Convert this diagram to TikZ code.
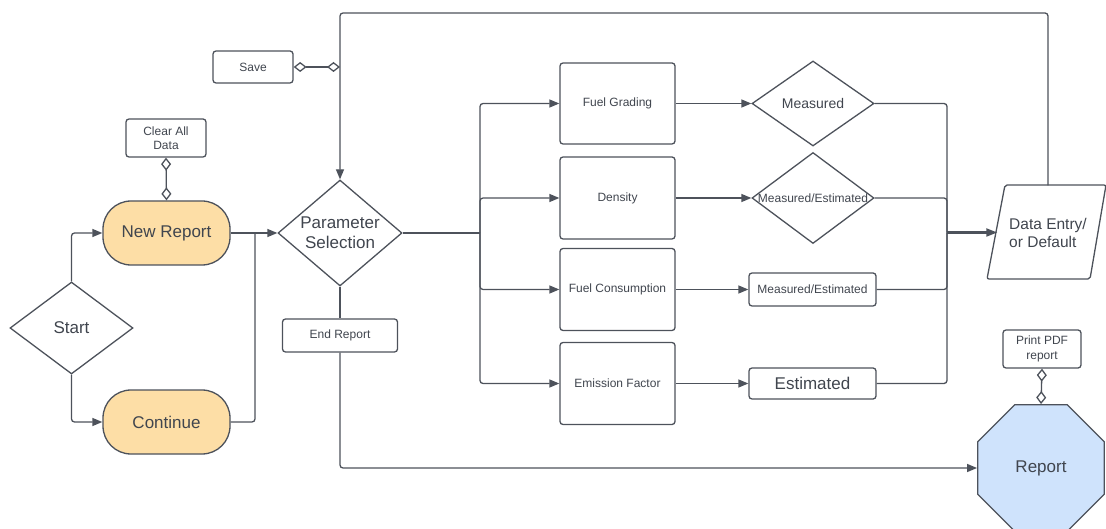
\documentclass[tikz,border=0pt]{standalone}
\usepackage{fontspec}
\setmainfont{Liberation Sans}
\usetikzlibrary{arrows.meta,shapes.geometric}
\definecolor{ln}{HTML}{4D525B}
\definecolor{tx}{HTML}{40454E}
\definecolor{orf}{HTML}{FDDEA6}
\definecolor{blf}{HTML}{CFE3FC}
\newcommand{\fs}[2]{\fontsize{#1}{#2}\selectfont}
\tikzset{
  base/.style={draw=ln, line width=1.3pt, text=tx, inner sep=0pt, align=center},
  box/.style={base, rectangle, rounded corners=3pt, minimum width=#1},
  pill/.style={base, rectangle, rounded corners=28pt, fill=orf, minimum width=127pt, minimum height=64pt, font=\fs{17}{20}},
  diam/.style={base, diamond, inner sep=-60pt},
  conn/.style={draw=ln, line width=1.3pt, rounded corners=3pt},
  arr/.style={conn, -{Triangle[length=10pt,width=8pt]}},
  thickarr/.style={conn, line width=2.1pt, -{Triangle[length=11pt,width=8pt]}},
  dia/.style={draw=ln, line width=1.3pt, {Diamond[open,length=13pt,width=10pt]}-{Diamond[open,length=13pt,width=10pt]}},
  small/.style={font=\fs{12}{14.5}},
}
\begin{document}
\begin{tikzpicture}[x=1pt,y=-1pt]
\useasboundingbox (0,0) rectangle (1106,529);
% nodes
\node[box=80pt, minimum height=32pt, small] (save) at (253,67) {Save};
\node[box=80pt, minimum height=38pt, small] (clear) at (166,138) {Clear All\\Data};
\node[pill] (newrep) at (166.5,233) {New Report};
\node[pill] (cont) at (166.5,422) {Continue};
\node[diam, minimum width=123pt, minimum height=92pt, font=\fs{17}{20}] (start) at (71.5,328) {Start};
\node[diam, minimum width=124pt, minimum height=106pt, font=\fs{17}{20}] (param) at (340,233) {Parameter\\Selection};
\node[box=115pt, minimum height=33pt, small] (endrep) at (340,335.5) {End Report};
\node[box=115pt, minimum height=81pt, small] (fg) at (617.5,103.5) {Fuel Grading};
\node[box=115pt, minimum height=82pt, small] (dens) at (617.5,198) {Density};
\node[box=115pt, minimum height=82pt, small] (fc) at (617.5,289.5) {Fuel Consumption};
\node[box=115pt, minimum height=82pt, small] (ef) at (617.5,383.5) {Emission Factor};
\node[diam, minimum width=122pt, minimum height=85pt, font=\fs{14}{16}] (meas) at (813,103.5) {Measured};
\node[diam, minimum width=122pt, minimum height=91pt, small] (measest) at (813,198) {Measured/Estimated};
\node[box=127pt, minimum height=33pt, small] (mebox) at (812.5,289.5) {Measured/Estimated};
\node[box=127pt, minimum height=31pt, font=\fs{17}{20}] (est) at (812.5,383.5) {Estimated};
% data entry parallelogram (drawn directly) with its text node
\draw[draw=ln, line width=1.3pt, rounded corners=2pt] (1005,185) -- (1106,185) -- (1090,279) -- (987,279) -- cycle;
\node[text=tx, inner sep=0pt, minimum width=101pt, minimum height=94pt, align=left, font=\fs{15.5}{18}] (data) at (1048,232.5) {Data Entry/\\or Default};
\node[box=78pt, minimum height=38pt, small] (pdf) at (1042,349) {Print PDF\\report};
\node[base, regular polygon, regular polygon sides=8, minimum size=137pt, fill=blf, font=\fs{17}{20}] (report) at (1041,468) {Report};
% junction coordinates
\coordinate (j1) at (255,233);
\coordinate (j2) at (480,233);
\coordinate (j3) at (947,232.5);
\coordinate (topl) at (340,13);
\coordinate (savej) at (340,67);
% connectors
\draw[arr] (start.north) |- (newrep.west);
\draw[arr] (start.south) |- (cont.west);
\draw[arr] (newrep.east) -- (param.west);
\draw[conn] (cont.east) -| (j1);
\draw[conn] (param.south) -- (endrep.north);
\draw[arr] (endrep.south) |- (report.west);
\draw[conn, line width=2.1pt] (param.east) -- (j2);
\draw[arr] (j2) |- (fg.west);
\draw[arr] (j2) |- (dens.west);
\draw[arr] (j2) |- (fc.west);
\draw[arr] (j2) |- (ef.west);
\draw[arr] (fg.east) -- (meas.west);
\draw[arr] (dens.east) -- (measest.west);
\draw[arr] (fc.east) -- (mebox.west);
\draw[arr] (ef.east) -- (est.west);
\draw[conn] (meas.east) -| (j3);
\draw[conn] (measest.east) -| (j3);
\draw[conn] (mebox.east) -| (j3);
\draw[conn] (est.east) -| (j3);
\draw[thickarr] (j3) -- (data.west);
\draw[arr] (data.north) |- (topl) -- (param.north);
\draw[dia] (save.east) -- (savej);
\draw[dia] (clear.south) -- (newrep.north);
\draw[dia] (pdf.south) -- (report.north);
\end{tikzpicture}
\end{document}
